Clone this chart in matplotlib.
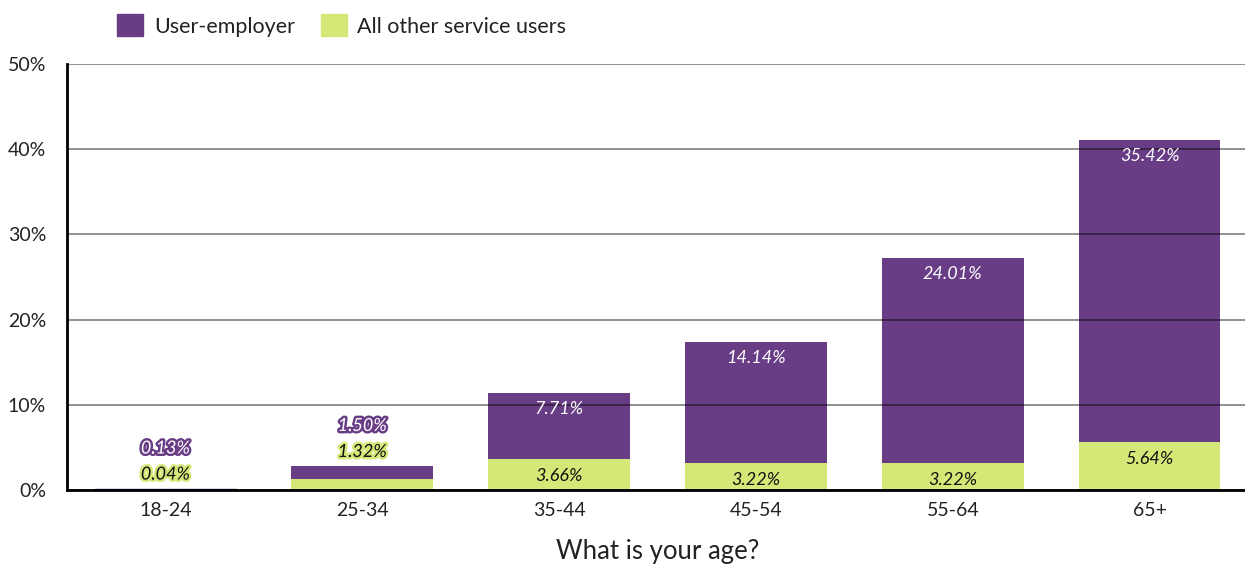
import matplotlib
matplotlib.use("Agg")
import matplotlib.pyplot as plt
import matplotlib.patheffects as pe
from matplotlib.patches import Patch
import numpy as np

categories = ["18-24", "25-34", "35-44", "45-54", "55-64", "65+"]
other_users = [0.04, 1.32, 3.66, 3.22, 3.22, 5.64]
user_employer = [0.13, 1.50, 7.71, 14.14, 24.01, 35.42]
y_ticks = [0, 10, 20, 30, 40, 50]
y_ticklabels = ["0%", "10%", "20%", "30%", "40%", "50%"]

PURPLE = "#693d85"
GREEN = "#d3e877"
FONT = "Lato"

plt.rcParams["font.family"] = [FONT, "DejaVu Sans"]

fig = plt.figure(figsize=(12.45, 5.72), dpi=100)
ax = fig.add_axes([67 / 1245, 1 - 490 / 572, (1248 - 67) / 1245, (490 - 64) / 572])

x = np.arange(len(categories))
w = 0.72
b1 = ax.bar(x, other_users, w, color=GREEN, zorder=2)
b2 = ax.bar(x, user_employer, w, bottom=other_users, color=PURPLE, zorder=2)
# tiny first bar renders navy in the original
b2[0].set_color("#3d3b8e")
b1[0].set_color("#3d3b8e")

ax.set_xlim(-0.5, len(categories) - 0.5)
ax.set_ylim(0, 50)
ax.set_yticks(y_ticks)
ax.set_yticklabels(y_ticklabels, fontsize=14, color="#222222")
ax.set_xticks(x)
ax.set_xticklabels(categories, fontsize=14, color="#222222")
ax.tick_params(axis="both", length=0)
ax.tick_params(axis="y", pad=15)
ax.tick_params(axis="x", pad=9)
ax.yaxis.grid(True, color="#000000", alpha=0.55, lw=1.1, zorder=3)
ax.set_axisbelow(False)
for s in ["top", "right"]:
    ax.spines[s].set_visible(False)
ax.spines["left"].set_linewidth(2)
ax.spines["bottom"].set_linewidth(2)
ax.spines["left"].set_zorder(5)
ax.spines["bottom"].set_zorder(5)
ax.set_xlabel("What is your age?", fontsize=18.5, color="#222222", labelpad=14)

for i in range(len(categories)):
    g = other_users[i]
    p = user_employer[i]
    total = g + p
    if total < 5:
        ax.annotate(f"{g:.2f}%", (x[i], total), xytext=(0, 14), textcoords="offset pixels",
                    ha="center", va="center", fontsize=13, style="italic", color="#111111",
                    path_effects=[pe.withStroke(linewidth=3.5, foreground=GREEN)], zorder=6)
        ax.annotate(f"{p:.2f}%", (x[i], total), xytext=(0, 40), textcoords="offset pixels",
                    ha="center", va="center", fontsize=13, style="italic", color="white",
                    path_effects=[pe.withStroke(linewidth=3.5, foreground=PURPLE)], zorder=6)
    else:
        ax.annotate(f"{g:.2f}%", (x[i], g), xytext=(0, -17), textcoords="offset pixels",
                    ha="center", va="center", fontsize=13, style="italic", color="#111111", zorder=6)
        ax.annotate(f"{p:.2f}%", (x[i], total), xytext=(0, -16), textcoords="offset pixels",
                    ha="center", va="center", fontsize=13, style="italic", color="white", zorder=6)

handles = [Patch(color=PURPLE, label="User-employer"), Patch(color=GREEN, label="All other service users")]
fig.legend(handles=handles, loc="upper left", bbox_to_anchor=(98 / 1245, 1 + 5 / 572),
           ncol=2, frameon=False, fontsize=15.5, handlelength=1.2, handleheight=1.2,
           handletextpad=0.5, columnspacing=1.2, labelcolor="#222222")

fig.savefig("out.png", dpi=100)
